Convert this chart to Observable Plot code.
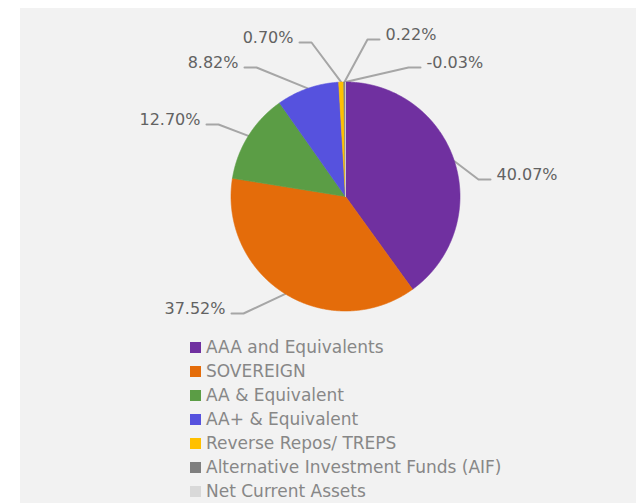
<!DOCTYPE html>
<html><head><meta charset="utf-8">
<script src="https://cdn.jsdelivr.net/npm/d3@7"></script>
<script src="https://cdn.jsdelivr.net/npm/@observablehq/plot@0.6"></script>
<style>
html,body{margin:0;padding:0;background:#fff;}
#panel{position:absolute;left:20px;top:8px;width:616px;height:495px;background:#f2f2f2;overflow:hidden;}
#chart svg{display:block;}
#legend{position:absolute;left:170px;top:327px;font-family:"DejaVu Sans";font-size:17px;color:#878787;}
.row{height:24px;display:flex;align-items:center;white-space:nowrap;}
.sw{width:11px;height:11px;margin-right:5px;flex:none;}
</style></head><body>
<div id="panel"><div id="chart"></div><div id="legend"></div></div>
<script>
// ---- data ----
const categories = ["AAA and Equivalents","SOVEREIGN","AA & Equivalent","AA+ & Equivalent","Reverse Repos/ TREPS","Alternative Investment Funds (AIF)","Net Current Assets"];
const values = [40.07, 37.52, 12.70, 8.82, 0.70, 0.22, -0.03];
const labels = ["40.07%","37.52%","12.70%","8.82%","0.70%","0.22%","-0.03%"];
const colors = ["#7030a0","#e46c0a","#5b9d45","#5652de","#ffc000","#7f7f7f","#d9d9d9"];

// ---- layout (pixels relative to pie centre) ----
const R = 114.5;
const elbows = [[133,-17],[-102,117],[-127,-72],[-89,-129],[-34,-154],[22,-157],[63,-129]];
const sides = [1,-1,-1,-1,-1,1,1];
const tail = 12;

const W = 616, H = 327, cx = 325, cy = 188;

const arcs = d3.pie().sort(null).value(d => Math.abs(d.value))(
  categories.map((name, i) => ({name, value: values[i]}))
);
const pt = (a, r) => ({x: r * Math.sin(a), y: -r * Math.cos(a)});

const piePoints = [];
arcs.forEach(a => {
  const name = a.data.name;
  piePoints.push({name, x: 0, y: 0});
  const n = Math.max(2, Math.ceil((a.endAngle - a.startAngle) / 0.005));
  for (let k = 0; k <= n; k++) {
    const t = a.startAngle + (a.endAngle - a.startAngle) * k / n;
    piePoints.push({name, ...pt(t, R)});
  }
  piePoints.push({name, x: 0, y: 0});
});

const leaderPoints = [];
const labelData = [];
arcs.forEach((a, i) => {
  const name = a.data.name;
  const mid = (a.startAngle + a.endAngle) / 2;
  const e = elbows[i];
  const endX = e[0] + sides[i] * tail;
  leaderPoints.push({name, ...pt(mid, R)});
  leaderPoints.push({name, x: e[0], y: e[1]});
  leaderPoints.push({name, x: endX, y: e[1]});
  labelData.push({name, text: labels[i], x: endX, y: e[1], side: sides[i]});
});

const textOpts = {x: "x", y: "y", text: "text", fontFamily: "DejaVu Sans", fontSize: 16, fill: "#626262", dy: -5};

const chart = Plot.plot({
  width: W, height: H, margin: 0,
  x: {domain: [-cx, W - cx], range: [0, W], axis: null},
  y: {domain: [-cy, H - cy], range: [0, H], axis: null},
  color: {domain: categories, range: colors},
  style: {background: "transparent", overflow: "visible"},
  marks: [
    Plot.line(leaderPoints, {x: "x", y: "y", z: "name", stroke: "#a6a6a6", strokeWidth: 2, curve: "linear"}),
    Plot.line(piePoints, {x: "x", y: "y", z: "name", fill: "name", stroke: "name", strokeWidth: 0.6, curve: "linear"}),
    Plot.text(labelData.filter(d => d.side > 0), {...textOpts, textAnchor: "start", dx: 6}),
    Plot.text(labelData.filter(d => d.side < 0), {...textOpts, textAnchor: "end", dx: -6})
  ]
});
document.getElementById("chart").appendChild(chart);

const legend = d3.select("#legend");
categories.forEach((c, i) => {
  const row = legend.append("div").attr("class", "row");
  row.append("div").attr("class", "sw").style("background", colors[i]);
  row.append("span").text(c);
});
</script>
</body></html>
